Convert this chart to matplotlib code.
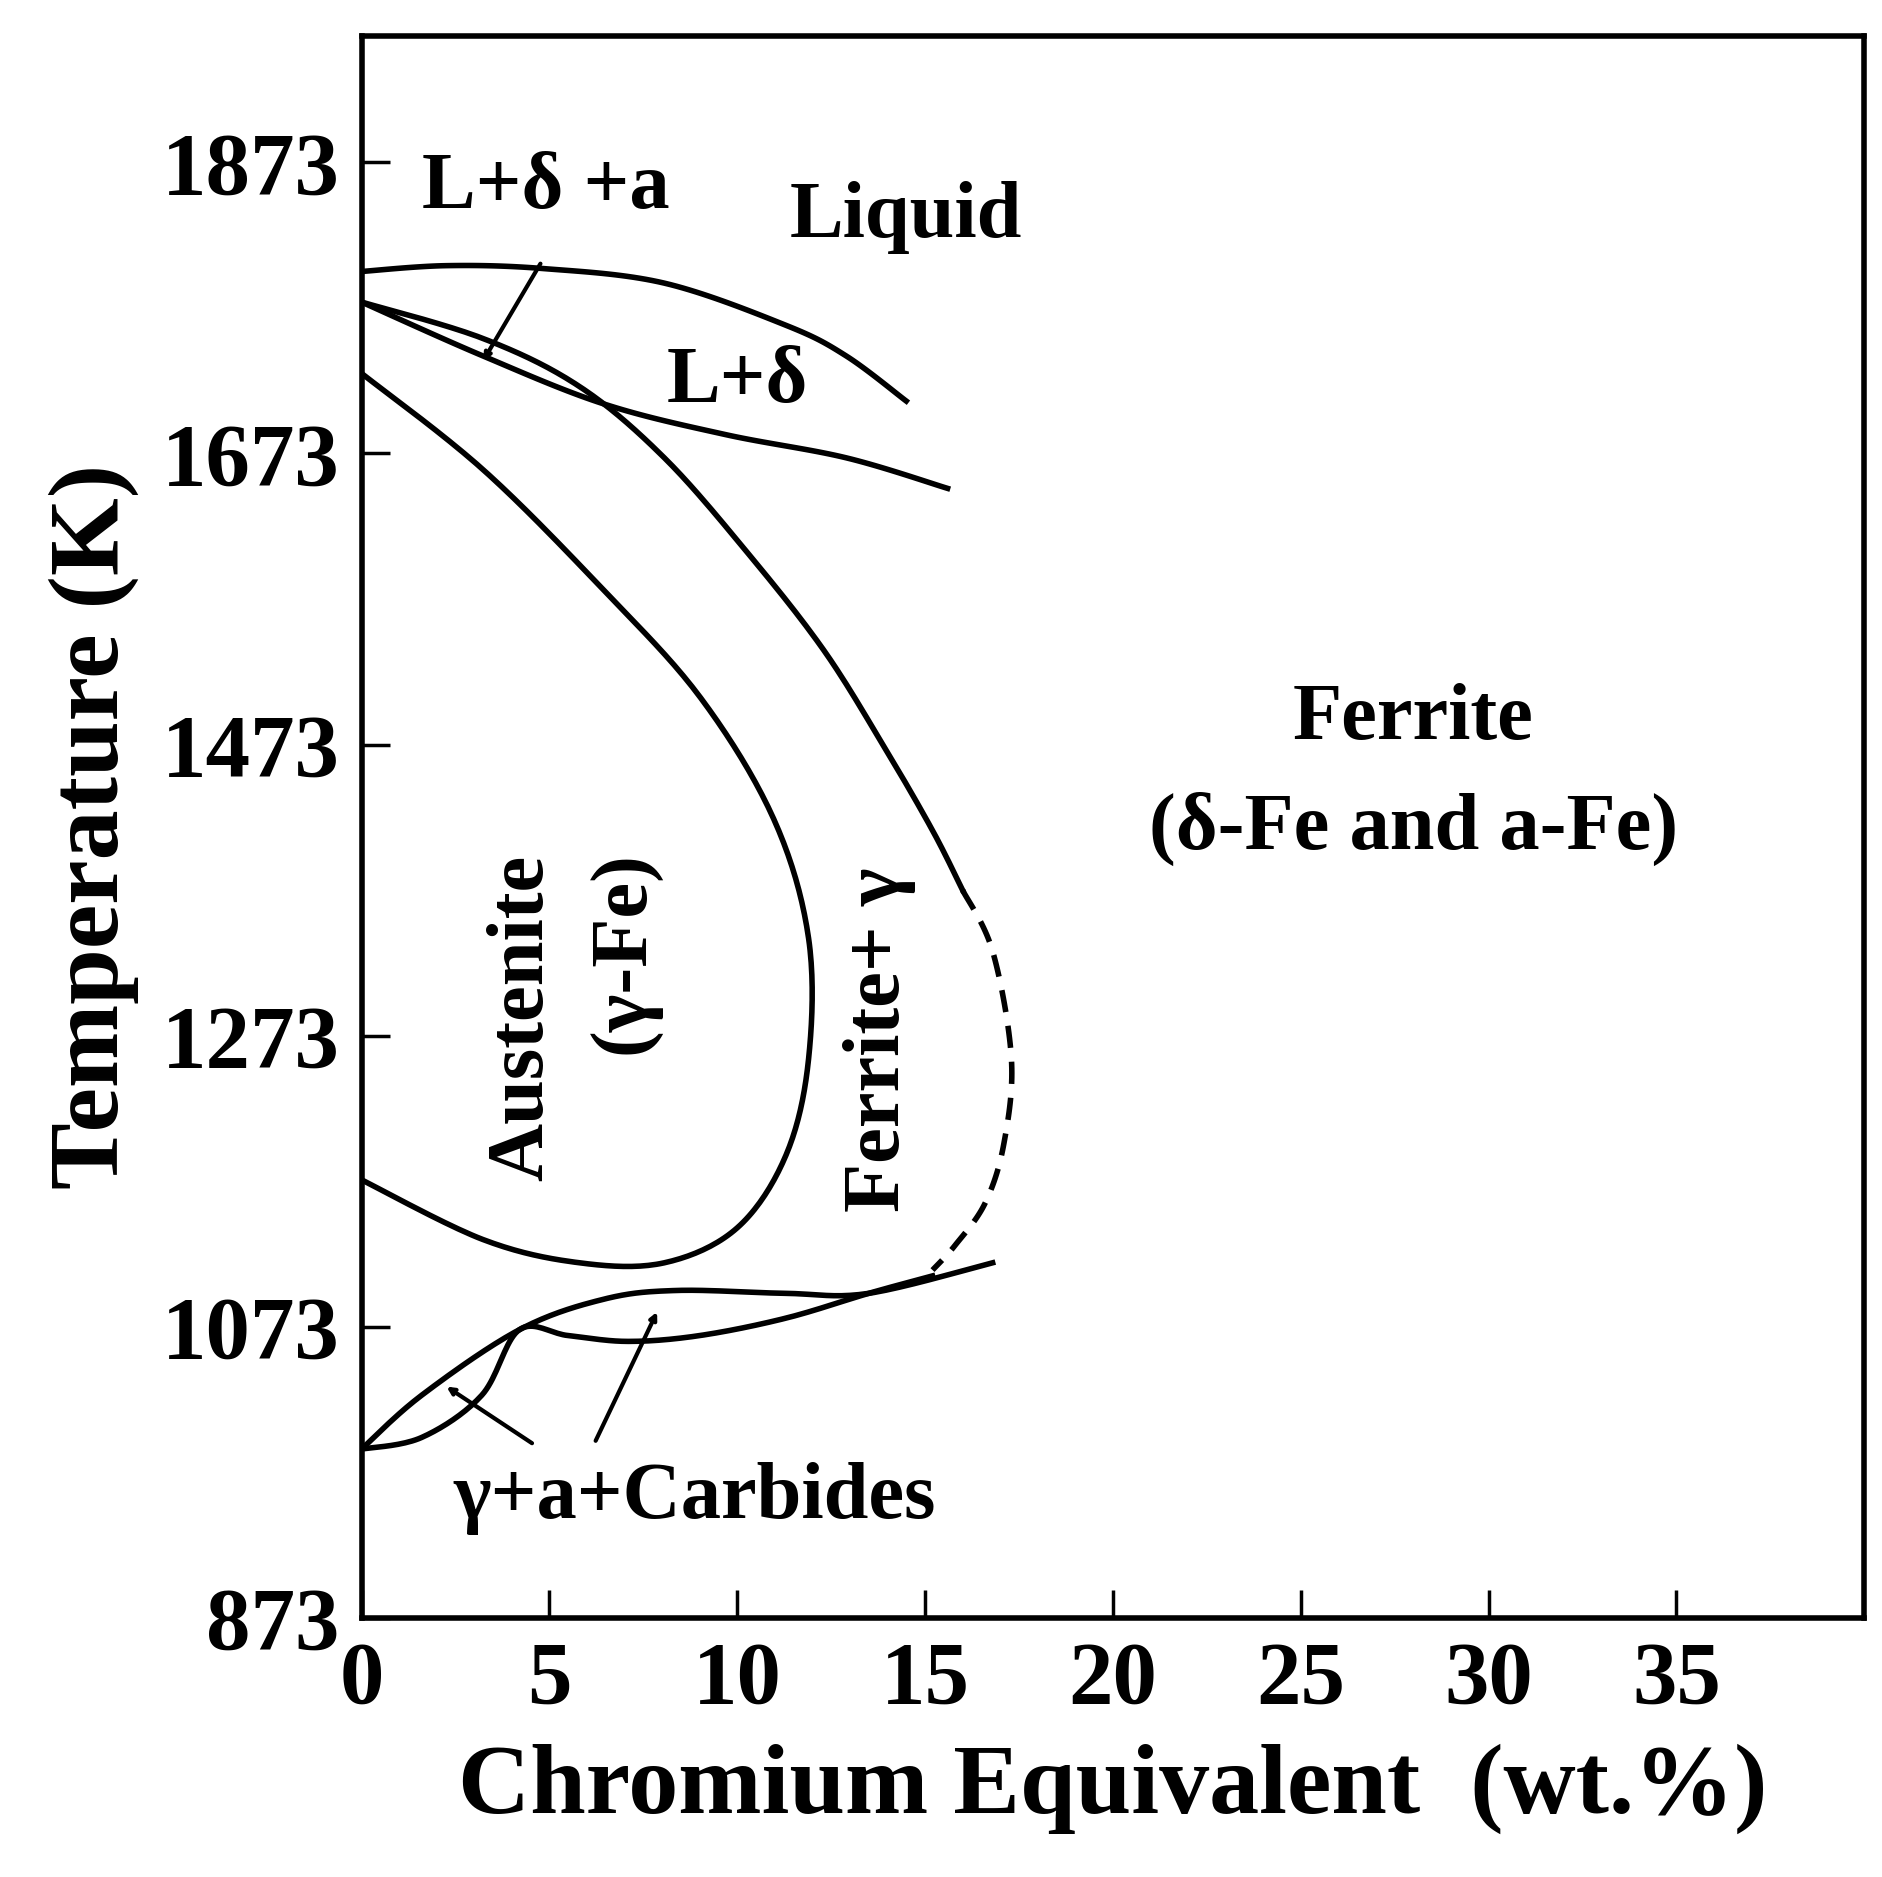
import matplotlib
matplotlib.use("Agg")
import matplotlib.pyplot as plt
import numpy as np

plt.rcParams['font.family'] = ['Liberation Serif', 'DejaVu Serif']
plt.rcParams['font.weight'] = 'bold'

liq_x = [0, 2.26, 4.84, 8.06, 11.3, 12.9, 14.5]
liq_T = [1798, 1802, 1800, 1790, 1761, 1740, 1709]
ld_x = [0, 3.23, 6.45, 9.68, 12.9, 15.6]
ld_T = [1777, 1740, 1707, 1686, 1670, 1649]
fg_x = [0, 3.23, 5.8, 8.06, 10.3, 12.3, 13.9, 15.2, 16.0]
fg_T = [1777, 1752, 1719, 1670, 1604, 1538, 1472, 1414, 1373]
dash_x = [16.0, 16.8, 17.3, 17.1, 16.6, 15.8, 15.2]
dash_T = [1373, 1331, 1257, 1199, 1158, 1129, 1112]
aus_x = [0, 3.23, 6.45, 9.03, 10.97, 11.9, 11.9, 11.3, 10.0, 8.06, 5.8, 3.23, 0]
aus_T = [1728, 1662, 1579, 1505, 1422, 1340, 1257, 1191, 1141, 1117, 1117, 1133, 1174]
up_x = [0, 1.6, 4.2, 6.45, 8.4, 11.3, 13.5, 16.8]
up_T = [989, 1026, 1071, 1092, 1098, 1096, 1096, 1117]
lo_x = [0, 1.6, 3.2, 4.2, 5.5, 7.1, 9.0, 11.3, 13.5, 15.2]
lo_T = [989, 997, 1026, 1071, 1067, 1063, 1067, 1079, 1096, 1108]
xticks = [0, 5, 10, 15, 20, 25, 30, 35]
yticks = [873, 1073, 1273, 1473, 1673, 1873]


def smooth(x, y, n=20):
    p = np.column_stack([x, y]).astype(float)
    p = np.vstack([p[0], p, p[-1]])
    out = []
    for i in range(1, len(p) - 2):
        p0, p1, p2, p3 = p[i - 1], p[i], p[i + 1], p[i + 2]
        for t in np.linspace(0, 1, n, endpoint=False):
            out.append(0.5 * ((2 * p1) + (-p0 + p2) * t + (2 * p0 - 5 * p1 + 4 * p2 - p3) * t**2
                              + (-p0 + 3 * p1 - 3 * p2 + p3) * t**3))
    out.append(p[-2])
    out = np.array(out)
    return out[:, 0], out[:, 1]


fig = plt.figure(figsize=(18.83, 18.77), dpi=100)
ax = fig.add_axes([0.192, 0.138, 0.798, 0.843])
lw = 4
for xs, ts in [(liq_x, liq_T), (ld_x, ld_T), (fg_x, fg_T), (aus_x, aus_T), (up_x, up_T), (lo_x, lo_T)]:
    sx, sy = smooth(xs, ts)
    ax.plot(sx, sy, color='black', lw=lw)
sx, sy = smooth(dash_x, dash_T)
ax.plot(sx, sy, color='black', lw=lw, ls=(0, (4, 2.5)))

ax.set_xlim(0, 40)
ax.set_ylim(873, 1960)
ax.set_xticks(xticks)
ax.set_yticks(yticks)
ax.tick_params(direction='in', length=20, width=2.5, labelsize=64, pad=16)
for s in ax.spines.values():
    s.set_linewidth(4)
ax.set_xlabel('Chromium Equivalent  (wt.%)', fontsize=72, fontweight='bold', labelpad=16)
ax.set_ylabel('Temperature (K)', fontsize=72, fontweight='bold', labelpad=16)

fs = 58
ax.text(14.5, 1835, 'Liquid', fontsize=fs, ha='center', va='center')
ax.text(1.6, 1855, 'L+δ +a', fontsize=fs, ha='left', va='center')
ax.annotate('', xy=(3.2, 1735), xytext=(4.8, 1805),
            arrowprops=dict(arrowstyle='->', lw=3, color='black'))
ax.text(10.0, 1722, 'L+δ', fontsize=fs, ha='center', va='center')
ax.text(28.0, 1490, 'Ferrite', fontsize=fs, ha='center', va='center')
ax.text(28.0, 1415, '(δ-Fe and a-Fe)', fontsize=fs, ha='center', va='center')
ax.text(4.3, 1285, 'Austenite', fontsize=fs, rotation=90, ha='center', va='center')
ax.text(7.0, 1330, '(γ-Fe)', fontsize=fs, rotation=90, ha='center', va='center')
ax.text(13.8, 1270, 'Ferrite+ γ', fontsize=fs, rotation=90, ha='center', va='center')
ax.text(15.3, 955, 'γ+a+Carbides', fontsize=fs, ha='right', va='center')
ax.annotate('', xy=(2.2, 1033), xytext=(4.6, 992),
            arrowprops=dict(arrowstyle='->', lw=3, color='black'))
ax.annotate('', xy=(7.9, 1085), xytext=(6.2, 993),
            arrowprops=dict(arrowstyle='->', lw=3, color='black'))

fig.savefig('out.png', dpi=100)
